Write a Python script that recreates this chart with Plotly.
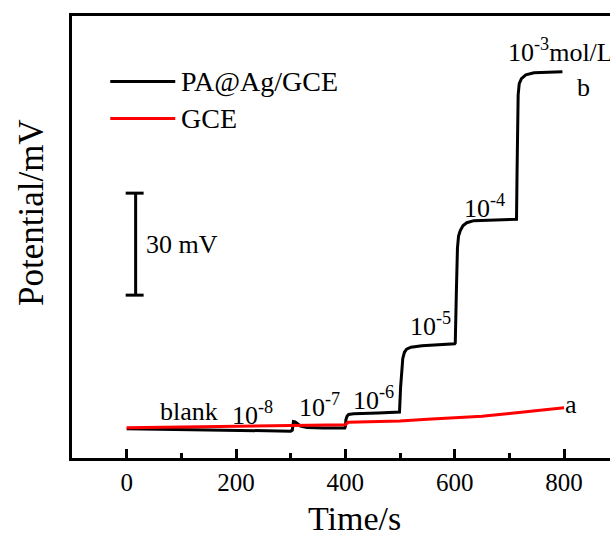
import plotly.graph_objects as go

# ---- data ----
time_b = [0, 100, 200, 300, 303, 305, 308, 312, 318, 330, 360, 399,
          400, 401, 403, 406, 415, 460, 499,
          501, 503, 505, 508, 512, 520, 540, 600,
          601, 603, 605, 607, 610, 615, 622, 635, 680, 713,
          714, 715, 716, 718, 722, 730, 745, 797]
pot_b = [-0.2, -0.4, -0.6, -0.9, -0.6, 1.9, 1.8, 1.2, 0.6, 0.2, 0.0, 0.0,
         0.4, 2.5, 3.5, 4.0, 4.2, 4.4, 4.7,
         12.0, 18.0, 20.5, 22.3, 23.2, 23.8, 24.2, 24.8,
         25.0, 40.0, 53.0, 56.5, 58.0, 59.5, 60.4, 61.0, 61.2, 61.4,
         75.0, 90.0, 98.0, 101.3, 102.8, 103.9, 104.5, 104.8]

time_r = [0, 100, 200, 300, 400, 405, 500, 550, 600, 650, 700, 750, 800]
pot_r = [0.1, 0.3, 0.5, 0.8, 1.0, 1.7, 2.1, 2.6, 3.0, 3.5, 4.3, 5.1, 6.0]

series_names = ["PA@Ag/GCE", "GCE"]
series_colors = ["#000000", "#ff0000"]

# concentration labels: (text, time, potential)
conc_labels = [
    ("blank", 57, 5.0),
    ("10<sup>-8</sup>", 189, 4.4),
    ("10<sup>-7</sup>", 311, 6.5),
    ("10<sup>-6</sup>", 411, 8.8),
    ("10<sup>-5</sup>", 515, 30.4),
    ("10<sup>-4</sup>", 614, 65.3),
    ("10<sup>-3</sup>mol/L", 694, 111.2),
]
curve_labels = [("b", 836, 100.3), ("a", 813, 6.8)]

scale_bar_mV = 30
scale_bar_bottom = 39.1
scale_bar_time = 16.4

x_range = [-100, 884]
y_range = [-8.8, 121.2]

FONT = "Liberation Serif, Times New Roman, serif"

fig = go.Figure()
fig.add_trace(go.Scatter(x=time_b, y=pot_b, mode="lines", name=series_names[0],
                         line=dict(color=series_colors[0], width=3), showlegend=False))
fig.add_trace(go.Scatter(x=time_r, y=pot_r, mode="lines", name=series_names[1],
                         line=dict(color=series_colors[1], width=3), showlegend=False))

annotations = []
for txt, t, v in conc_labels:
    annotations.append(dict(x=t, y=v, xref="x", yref="y", text=txt, showarrow=False,
                            xanchor="left", yanchor="middle",
                            font=dict(family=FONT, size=26, color="black")))
for txt, t, v in curve_labels:
    annotations.append(dict(x=t, y=v, xref="x", yref="y", text=txt, showarrow=False,
                            xanchor="center", yanchor="middle",
                            font=dict(family=FONT, size=26, color="black")))
# scale bar label
annotations.append(dict(x=31, y=scale_bar_bottom + scale_bar_mV / 2, xref="x", yref="y",
                        text="30 mV", showarrow=False, xanchor="left", yanchor="middle",
                        font=dict(family=FONT, size=26, color="black")))
# legend (manual)
leg_y = [0.852, 0.768]
for i, name in enumerate(series_names):
    annotations.append(dict(x=0.199, y=leg_y[i], xref="paper", yref="paper", text=name,
                            showarrow=False, xanchor="left", yanchor="middle",
                            font=dict(family=FONT, size=28, color="black")))
# axis titles
annotations.append(dict(x=0.526, y=-0.137, xref="paper", yref="paper", text="Time/s",
                        showarrow=False, xanchor="center", yanchor="middle",
                        font=dict(family=FONT, size=34, color="black")))
annotations.append(dict(x=-0.0756, y=0.555, xref="paper", yref="paper", text="Potential/mV",
                        showarrow=False, xanchor="center", yanchor="middle", textangle=-90,
                        font=dict(family=FONT, size=35, color="black")))

shapes = []
# scale bar
shapes.append(dict(type="line", xref="x", yref="y", x0=scale_bar_time, x1=scale_bar_time,
                   y0=scale_bar_bottom, y1=scale_bar_bottom + scale_bar_mV,
                   line=dict(color="black", width=3)))
for yy in [scale_bar_bottom, scale_bar_bottom + scale_bar_mV]:
    shapes.append(dict(type="line", xref="x", yref="y", x0=-1.8, x1=31, y0=yy, y1=yy,
                       line=dict(color="black", width=3)))
# legend line samples
for i in range(2):
    shapes.append(dict(type="line", xref="paper", yref="paper", x0=0.0711, x1=0.1919,
                       y0=leg_y[i], y1=leg_y[i],
                       line=dict(color=series_colors[i], width=3)))

fig.update_layout(
    width=610, height=537, autosize=False,
    margin=dict(l=72, r=0, t=16, b=79, pad=0),
    paper_bgcolor="white", plot_bgcolor="white",
    annotations=annotations, shapes=shapes,
    font=dict(family=FONT, color="black"),
)
fig.update_xaxes(range=x_range, showgrid=False, zeroline=False,
                 showline=True, linecolor="black", linewidth=2.5, mirror=True,
                 ticks="inside", ticklen=9, tickwidth=2.5, tickcolor="black",
                 tick0=0, dtick=200,
                 minor=dict(ticks="inside", ticklen=5, tickwidth=2.5, tickcolor="black", dtick=100, tick0=0),
                 tickfont=dict(family=FONT, size=25, color="black"))
fig.update_yaxes(range=y_range, showgrid=False, zeroline=False,
                 showline=True, linecolor="black", linewidth=2.5, mirror=False,
                 ticks="", showticklabels=False)

fig.write_html("out.html")
